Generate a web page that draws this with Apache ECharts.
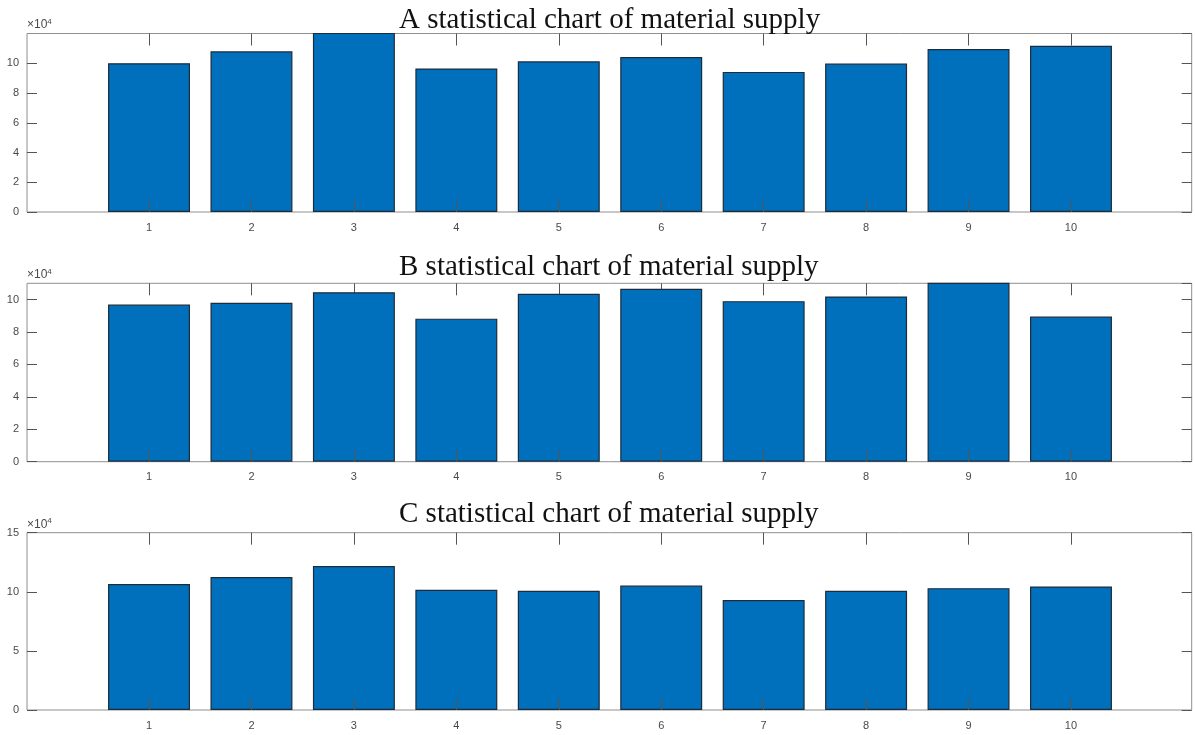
<!DOCTYPE html>
<html>
<head>
<meta charset="utf-8">
<style>
  html, body { margin: 0; padding: 0; background: #fff; }
  #chart { width: 1195px; height: 735px; }
</style>
<script src="https://cdn.jsdelivr.net/npm/echarts@6/dist/echarts.min.js"></script>
</head>
<body>
<div id="chart"></div>
<script>
// 数据
const categories = ['1', '2', '3', '4', '5', '6', '7', '8', '9', '10'];
const supplyA = [100000, 108000, 123000, 96500, 101300, 104200, 94200, 99800, 109500, 111800];
const supplyB = [96900, 98000, 104500, 88200, 103500, 106600, 99000, 101900, 113000, 89500];
const supplyC = [106500, 112500, 121800, 101700, 100800, 105300, 93000, 100800, 103100, 104500];
const titles = [
  'A statistical chart of material supply',
  'B statistical chart of material supply',
  'C statistical chart of material supply'
];
const yMax = [120000, 110000, 150000];
const yStep = [20000, 20000, 50000];

// layout of the three panels (box top / height, title top)
const panels = [
  { top: 33.5, height: 178.5, titleTop: 1 },
  { top: 283.3, height: 178.4, titleTop: 248 },
  { top: 532.7, height: 177.3, titleTop: 495 }
];
const seriesData = [supplyA, supplyB, supplyC];

const labelColor = '#4a4a4a';
const boxColor = '#8f8f8f';
const tickColor = '#555';

let title = [], grid = [], xAxis = [], yAxis = [], series = [];

for (let k = 0; k < 3; k++) {
  const p = panels[k];
  title.push({
    text: titles[k],
    left: 394,
    top: p.titleTop,
    textStyle: { fontFamily: 'Liberation Serif', fontSize: 29, fontWeight: 'normal', color: '#111' }
  });
  // box grid
  grid.push({
    left: 27, right: 3.3, top: p.top, height: p.height,
    show: true, borderColor: boxColor, borderWidth: 1, backgroundColor: 'transparent'
  });
  // bar grid
  grid.push({ left: 97.8, right: 72.8, top: p.top, height: p.height });

  xAxis.push({ gridIndex: 2 * k, type: 'value', min: 0, max: 1, show: false });
  xAxis.push({
    gridIndex: 2 * k + 1, type: 'category', data: categories, position: 'bottom',
    axisLine: { show: true, lineStyle: { opacity: 0 } },
    axisTick: { show: true, inside: true, alignWithLabel: true, interval: 0, length: 12, lineStyle: { color: tickColor } },
    axisLabel: { color: labelColor, fontSize: 11, fontFamily: 'Liberation Sans', margin: 10 },
    z: 5
  });
  xAxis.push({
    gridIndex: 2 * k + 1, type: 'category', data: categories, position: 'top',
    axisLine: { show: true, lineStyle: { opacity: 0 } },
    axisTick: { show: true, inside: true, alignWithLabel: true, interval: 0, length: 12, lineStyle: { color: tickColor } },
    axisLabel: { show: false }
  });

  yAxis.push({
    gridIndex: 2 * k, type: 'value', min: 0, max: yMax[k], interval: yStep[k], position: 'left',
    name: '×10{s|4}', nameLocation: 'end', nameGap: 1,
    nameTextStyle: {
      align: 'left', color: labelColor, fontSize: 12, fontFamily: 'Liberation Sans',
      rich: { s: { fontSize: 8, verticalAlign: 'top', color: labelColor, padding: [0, 0, 7, 0] } }
    },
    axisLine: { show: false },
    splitLine: { show: false },
    axisTick: { inside: true, length: 10, lineStyle: { color: tickColor } },
    axisLabel: {
      color: labelColor, fontSize: 11, fontFamily: 'Liberation Sans', margin: 8,
      showMaxLabel: k === 2,
      formatter: function (v) { return v / 10000; }
    }
  });
  yAxis.push({
    gridIndex: 2 * k, type: 'value', min: 0, max: yMax[k], interval: yStep[k], position: 'right',
    axisLine: { show: false },
    splitLine: { show: false },
    axisTick: { inside: true, length: 10, lineStyle: { color: tickColor } },
    axisLabel: { show: false }
  });
  yAxis.push({ gridIndex: 2 * k + 1, type: 'value', min: 0, max: yMax[k], show: false });

  series.push({
    type: 'bar',
    xAxisIndex: 3 * k + 1,
    yAxisIndex: 3 * k + 2,
    barWidth: '80%',
    clip: true,
    itemStyle: { color: '#0070bd', borderColor: '#1d2b3a', borderWidth: 1.2 },
    data: seriesData[k]
  });
}

const myChart = echarts.init(document.getElementById('chart'));
myChart.setOption({
  animation: false,
  backgroundColor: '#fff',
  title: title,
  grid: grid,
  xAxis: xAxis,
  yAxis: yAxis,
  series: series
});
</script>
</body>
</html>
